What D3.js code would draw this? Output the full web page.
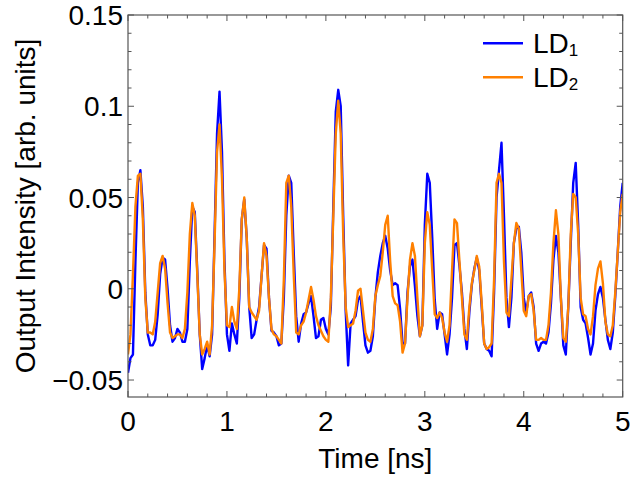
<!DOCTYPE html>
<html><head><meta charset="utf-8">
<script src="https://cdn.jsdelivr.net/npm/d3@7"></script>
<style>body{margin:0;background:#fff}svg{display:block}text{font-family:"Liberation Sans",Arial,sans-serif;fill:#000}</style>
</head><body>
<svg id="c" width="630" height="480"></svg>
<script>
const tStep = 0.025;
const ld1 = [
-0.046,-0.038,-0.036,0.015,0.058,0.065,0.045,-0.002,-0.025,-0.031,
-0.031,-0.028,-0.014,0.008,0.017,0.016,0.000,-0.020,-0.029,-0.027,
-0.022,-0.024,-0.029,-0.029,-0.022,0.015,0.045,0.042,0.010,-0.025,
-0.044,-0.038,-0.031,-0.037,-0.025,0.030,0.085,0.108,0.075,0.015,
-0.025,-0.034,-0.019,-0.025,-0.030,-0.005,0.038,0.049,0.028,-0.010,
-0.027,-0.025,-0.017,-0.010,0.007,0.024,0.022,-0.005,-0.023,-0.024,
-0.026,-0.031,-0.030,-0.005,0.040,0.062,0.058,0.020,-0.015,-0.029,
-0.019,-0.014,-0.013,-0.008,-0.004,-0.015,-0.027,-0.026,-0.017,-0.016,
-0.022,-0.025,-0.010,0.045,0.097,0.109,0.100,0.040,-0.012,-0.042,
-0.019,-0.017,-0.015,-0.006,-0.004,-0.018,-0.031,-0.035,-0.034,-0.026,
-0.005,0.009,0.018,0.025,0.029,0.022,0.010,0.002,0.003,0.002,
-0.011,-0.030,-0.030,-0.002,0.0125,0.016,0.0015,-0.015,-0.026,-0.020,
0.035,0.063,0.058,0.028,-0.006,-0.022,-0.013,-0.014,-0.025,-0.036,
-0.025,-0.005,0.024,0.025,0.0125,-0.002,-0.022,-0.033,-0.013,0.002,
0.011,0.017,0.010,-0.010,-0.030,-0.033,-0.034,-0.037,-0.002,0.050,
0.065,0.080,0.040,-0.005,-0.021,-0.005,0.025,0.033,0.034,0.020,
-0.005,-0.013,-0.004,-0.002,-0.010,-0.030,-0.034,-0.030,-0.029,-0.030,
-0.024,-0.008,0.016,0.029,0.020,-0.005,-0.031,-0.036,-0.010,0.025,
0.058,0.069,0.035,-0.010,-0.017,-0.019,-0.027,-0.036,-0.030,-0.012,
-0.003,0.001,-0.005,-0.017,-0.028,-0.033,-0.024,-0.004,0.020,0.045,
0.058];
const ld2 = [
-0.036,-0.025,0.008,0.045,0.062,0.063,0.038,-0.005,-0.024,-0.024,
-0.025,-0.018,-0.002,0.014,0.018,0.011,-0.008,-0.024,-0.027,-0.026,
-0.025,-0.025,-0.027,-0.022,-0.002,0.030,0.047,0.040,0.008,-0.025,
-0.036,-0.033,-0.029,-0.036,-0.020,0.025,0.075,0.090,0.060,0.010,
-0.020,-0.021,-0.010,-0.018,-0.022,0.000,0.038,0.050,0.028,-0.010,
-0.013,-0.015,-0.017,-0.012,0.007,0.025,0.018,-0.005,-0.022,-0.025,
-0.026,-0.028,-0.030,0.005,0.058,0.062,0.045,0.008,-0.024,-0.025,
-0.020,-0.018,-0.013,-0.006,0.001,-0.006,-0.015,-0.020,-0.023,-0.026,
-0.028,-0.029,-0.005,0.040,0.085,0.103,0.085,0.030,-0.010,-0.021,
-0.020,-0.019,-0.012,-0.001,0.000,-0.012,-0.024,-0.028,-0.029,-0.022,
-0.004,0.002,0.007,0.020,0.035,0.040,0.015,-0.004,-0.008,-0.009,
-0.018,-0.035,-0.030,-0.005,0.016,0.025,0.018,-0.005,-0.026,-0.020,
0.025,0.042,0.035,0.010,-0.014,-0.016,-0.013,-0.016,-0.024,-0.029,
-0.020,0.010,0.038,0.036,0.015,-0.005,-0.025,-0.028,-0.010,0.003,
0.010,0.018,0.012,-0.008,-0.030,-0.033,-0.032,-0.030,0.005,0.058,
0.063,0.058,0.015,-0.013,-0.015,0.005,0.025,0.036,0.033,0.010,
-0.012,-0.015,-0.004,-0.003,-0.012,-0.028,-0.028,-0.027,-0.028,-0.028,
-0.020,-0.002,0.025,0.043,0.030,-0.005,-0.027,-0.029,-0.010,0.030,
0.052,0.050,0.030,-0.005,-0.014,-0.015,-0.022,-0.025,-0.015,0.002,
0.011,0.015,0.003,-0.018,-0.025,-0.026,-0.020,-0.002,0.020,0.042,
0.052];
const xMajor = [0,1,2,3,4,5];
const yMajor = [-0.05,0,0.05,0.1,0.15];
const yLabels = ["\u22120.05","0","0.05","0.1","0.15"];
const seriesNames = ["LD","LD"];
const seriesSubs = ["1","2"];
const colors = ["#0000ff","#ff8000"];

const svg = d3.select("#c");
const L=128, R=622.7, T=15, B=397;
const x = d3.scaleLinear().domain([0,5]).range([L,R]);
const y = d3.scaleLinear().domain([-0.0593,0.15]).range([B,T]);

svg.append("clipPath").attr("id","clip").append("rect")
  .attr("x",L).attr("y",T).attr("width",R-L).attr("height",B-T);

const line = d3.line().x((d,i)=>x(i*tStep)).y(d=>y(d));
[ld1,ld2].forEach((s,k)=>{
  svg.append("path").attr("d",line(s)).attr("fill","none")
    .attr("stroke",colors[k]).attr("stroke-width",2.4)
    .attr("stroke-linejoin","round").attr("clip-path","url(#clip)");
});

// frame
const frameColor="#555";
svg.append("rect").attr("x",L).attr("y",T).attr("width",R-L).attr("height",B-T)
  .attr("fill","none").attr("stroke",frameColor).attr("stroke-width",1.2);

// ticks
const xMinor = d3.range(0,5.0001,0.2);
const yMinor = d3.range(-0.05,0.15001,0.01);
const tg = svg.append("g").attr("stroke",frameColor).attr("stroke-width",1);
xMinor.forEach(v=>{
  const maj = Math.abs(v-Math.round(v))<1e-6;
  const len = maj?6:3.5;
  tg.append("line").attr("x1",x(v)).attr("x2",x(v)).attr("y1",B).attr("y2",B-len);
  tg.append("line").attr("x1",x(v)).attr("x2",x(v)).attr("y1",T).attr("y2",T+len);
});
yMinor.forEach(v=>{
  const maj = Math.abs(v*20-Math.round(v*20))<1e-6;
  const len = maj?6:3.5;
  tg.append("line").attr("x1",L).attr("x2",L+len).attr("y1",y(v)).attr("y2",y(v));
  tg.append("line").attr("x1",R).attr("x2",R-len).attr("y1",y(v)).attr("y2",y(v));
});

// tick labels
xMajor.forEach(v=>{
  svg.append("text").attr("x",x(v)).attr("y",431).attr("text-anchor","middle")
    .attr("font-size",28).text(String(v));
});
yMajor.forEach((v,i)=>{
  svg.append("text").attr("x",L-5).attr("y",y(v)).attr("dy","0.36em")
    .attr("text-anchor","end").attr("font-size",28).text(yLabels[i]);
});

// axis titles
svg.append("text").attr("x",(L+R)/2).attr("y",468).attr("text-anchor","middle")
  .attr("font-size",28).text("Time [ns]");
svg.append("text").attr("transform",`translate(35,${(T+B)/2}) rotate(-90)`)
  .attr("text-anchor","middle").attr("font-size",28).text("Output Intensity [arb. units]");

// legend
[0,1].forEach(k=>{
  const ly = 43.3 + k*34;
  svg.append("line").attr("x1",483).attr("x2",523).attr("y1",ly).attr("y2",ly)
    .attr("stroke",colors[k]).attr("stroke-width",2.4);
  const t = svg.append("text").attr("x",533).attr("y",ly+10).attr("font-size",28);
  t.append("tspan").text(seriesNames[k]);
  t.append("tspan").attr("font-size",17).attr("dy",3).text(seriesSubs[k]);
});
</script>
</body></html>
